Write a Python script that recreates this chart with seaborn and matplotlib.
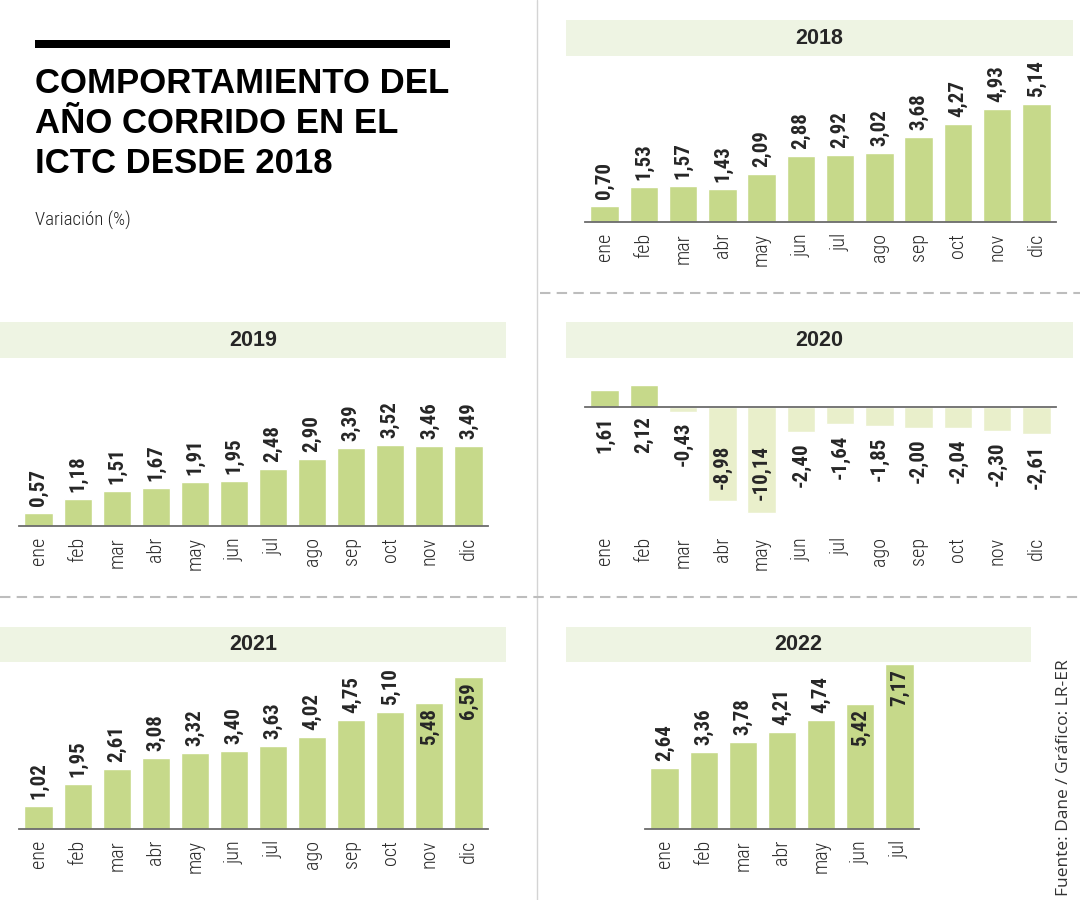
import matplotlib
matplotlib.use("Agg")
import matplotlib.pyplot as plt
import numpy as np
import pandas as pd
import seaborn as sns
from matplotlib import font_manager
from matplotlib.lines import Line2D
from matplotlib.patches import Rectangle

MESES = ["ene", "feb", "mar", "abr", "may", "jun", "jul", "ago", "sep", "oct", "nov", "dic"]
V2018 = [0.70, 1.53, 1.57, 1.43, 2.09, 2.88, 2.92, 3.02, 3.68, 4.27, 4.93, 5.14]
V2019 = [0.57, 1.18, 1.51, 1.67, 1.91, 1.95, 2.48, 2.90, 3.39, 3.52, 3.46, 3.49]
V2020 = [1.61, 2.12, -0.43, -8.98, -10.14, -2.40, -1.64, -1.85, -2.00, -2.04, -2.30, -2.61]
V2021 = [1.02, 1.95, 2.61, 3.08, 3.32, 3.40, 3.63, 4.02, 4.75, 5.10, 5.48, 6.59]
V2022 = [2.64, 3.36, 3.78, 4.21, 4.74, 5.42, 7.17]

TITULO = ["COMPORTAMIENTO DEL", "AÑO CORRIDO EN EL", "ICTC DESDE 2018"]
SUBTITULO = "Variación (%)"
FUENTE = "Fuente: Dane / Gráfico: LR-ER"

VERDE = "#c6d98a"
VERDE_CLARO = "#e9efcb"
BANDA = "#eef4e3"
EJE = "#6b6b6b"

W, H = 1080, 900

sns.set_style("white")
_fonts = {f.name for f in font_manager.fontManager.ttflist}


def pick(*names):
    for n in names:
        if n in _fonts:
            return n
    return "DejaVu Sans"


NARROW = pick("Roboto Condensed", "Liberation Sans Narrow", "DejaVu Sans")
BOLD = pick("Liberation Sans", "DejaVu Sans")
LIGHT = pick("Open Sans", "Lato", "DejaVu Sans")
plt.rcParams["font.family"] = [NARROW, "DejaVu Sans"]


def fig_box(left, top, right, bottom):
    return [left / W, 1 - bottom / H, (right - left) / W, (bottom - top) / H]


def fx(x):
    return x / W


def fy(y):
    return 1 - y / H


def fmt(v):
    return f"{v:.2f}".replace(".", ",")


def header(fig, left, right, top, bottom, year):
    fig.add_artist(Rectangle((fx(left), fy(bottom)), fx(right - left), (bottom - top) / H,
                             transform=fig.transFigure, color=BANDA, lw=0, zorder=0))
    fig.text(fx((left + right) / 2), fy((top + bottom) / 2), year, ha="center", va="center",
             fontsize=15.5, fontweight="bold", family=BOLD)


def style_axis(ax, n, pad, zero_spine=False):
    ax.set_xlim(-0.5, n - 0.5)
    ax.set_facecolor("none")
    for s in ["top", "right", "left"]:
        ax.spines[s].set_visible(False)
    if zero_spine:
        # la linea base de 2020 va en cero, los meses quedan abajo
        ax.spines["bottom"].set_position(("data", 0))
    ax.spines["bottom"].set_color(EJE)
    ax.spines["bottom"].set_linewidth(1.3)
    ax.set_yticks([])
    ax.set_xlabel("")
    ax.set_ylabel("")
    ax.set_xticks(np.arange(-0.5, n), minor=True)
    ax.tick_params(axis="x", which="major", length=0, pad=pad, labelsize=14.5,
                   labelrotation=90, labelcolor="#2a2a2a")
    ax.tick_params(axis="x", which="minor", length=4, width=1.3, color=EJE)
    for lab in ax.get_xticklabels():
        lab.set_fontweight("light")


def bar_panel(fig, values, box, scale, year, hdr):
    n = len(values)
    meses = MESES[:n]
    left, top, right, bottom = box
    ax = fig.add_axes(fig_box(left, top, right, bottom))
    df = pd.DataFrame({"mes": meses, "valor": values})
    sns.barplot(data=df, x="mes", y="valor", order=meses, color=VERDE, saturation=1,
                width=0.72, errorbar=None, ax=ax)
    ax.set_ylim(0, (bottom - top) / scale)
    style_axis(ax, n, 8)
    for i, v in enumerate(values):
        if v > 5.3:
            ax.text(i, v - 5 / scale, fmt(v), rotation=90, ha="center", va="top",
                    fontsize=15, fontweight="bold")
        else:
            ax.text(i, v + 7 / scale, fmt(v), rotation=90, ha="center", va="bottom",
                    fontsize=15, fontweight="bold")
    header(fig, *hdr, year)
    return ax


def panel_2020(fig, values, box, zero, scale, hdr):
    n = len(values)
    left, top, right, bottom = box
    ax = fig.add_axes(fig_box(left, top, right, bottom))
    df = pd.DataFrame({"mes": MESES, "valor": values,
                       "signo": ["pos" if v >= 0 else "neg" for v in values]})
    sns.barplot(data=df, x="mes", y="valor", order=MESES, hue="signo",
                palette={"pos": VERDE, "neg": VERDE_CLARO}, saturation=1, dodge=False,
                width=0.72, errorbar=None, legend=False, ax=ax)
    ax.set_ylim(-(bottom - zero) / scale, (zero - top) / scale)
    style_axis(ax, n, (bottom - zero) * 0.72, zero_spine=True)
    for i, v in enumerate(values):
        if v >= 0:
            y = -9 / scale
        elif v < -5:
            y = -38 / scale
        else:
            y = v - 10 / scale
        ax.text(i, y, fmt(v), rotation=90, ha="center", va="top",
                fontsize=15, fontweight="bold")
    header(fig, *hdr, "2020")
    return ax


fig = plt.figure(figsize=(W / 100, H / 100), dpi=100)

# separadores
fig.add_artist(Line2D([fx(537), fx(537)], [0, 1], transform=fig.transFigure,
                      color="#d4d4d4", lw=1))
fig.add_artist(Line2D([fx(540), 1], [fy(293), fy(293)], transform=fig.transFigure,
                      color="#bdbdbd", lw=1.5, linestyle=(0, (5, 3))))
fig.add_artist(Line2D([0, 1], [fy(597), fy(597)], transform=fig.transFigure,
                      color="#bdbdbd", lw=1.5, linestyle=(0, (5, 3))))

# titulo
fig.add_artist(Rectangle((fx(35), fy(48)), fx(415), 8 / H, transform=fig.transFigure,
                         color="black", lw=0))
for k, linea in enumerate(TITULO):
    fig.text(fx(35), fy(93 + 40 * k), linea, ha="left", va="baseline",
             fontsize=25, fontweight="bold", family=BOLD, color="black")
fig.text(fx(35), fy(226), SUBTITULO, ha="left", va="baseline", fontsize=13.5,
         fontweight="light", color="#222222")

bar_panel(fig, V2018, (585, 56, 1056, 222), 23, "2018", (566, 1073, 20, 56))
bar_panel(fig, V2019, (19, 358, 488, 526), 23, "2019", (0, 506, 322, 358))
panel_2020(fig, V2020, (585, 358, 1056, 537), 407, 10.5, (566, 1073, 322, 358))
bar_panel(fig, V2021, (19, 662, 488, 829), 23, "2021", (0, 506, 627, 662))
bar_panel(fig, V2022, (645, 662, 919, 829), 23, "2022", (566, 1031, 627, 662))

fig.text(fx(1064), fy(896), FUENTE, rotation=90, ha="center", va="bottom",
         fontsize=12.5, family=LIGHT, color="#333333")

fig.savefig("out.png", dpi=100)
